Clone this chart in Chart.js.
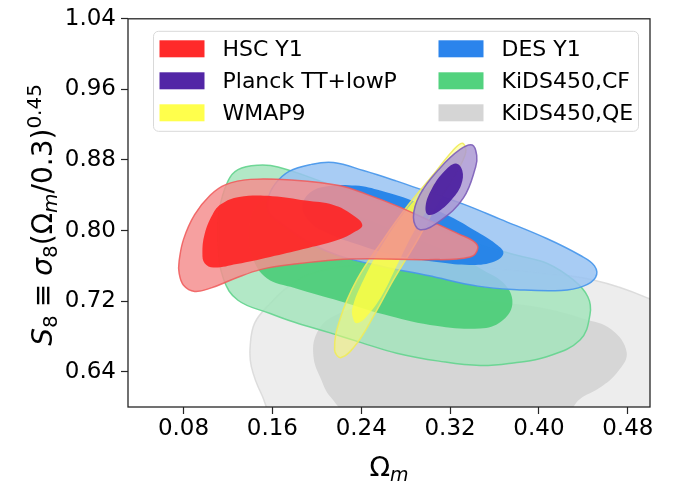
<!DOCTYPE html>
<html>
<head>
<meta charset="utf-8">
<script src="https://cdn.jsdelivr.net/npm/chart.js@4.4.0/dist/chart.umd.min.js"></script>
<style>
  html, body { margin: 0; padding: 0; background: #fff; }
  canvas { display: block; }
</style>
</head>
<body>
<canvas id="grafico" width="675" height="482"></canvas>
<script>
// Marcas de los ejes
const ticksX = [0.08, 0.16, 0.24, 0.32, 0.40, 0.48];
const ticksY = [0.64, 0.72, 0.80, 0.88, 0.96, 1.04];

// Nombres en el orden de la leyenda (dos columnas)
const nombres = ['HSC Y1', 'Planck TT+lowP', 'WMAP9', 'DES Y1', 'KiDS450,CF', 'KiDS450,QE'];

// Contornos [Ωm, S8]: exterior (95%) e interior (68%)
const qeExterior = [[0.165, 0.585], [0.150, 0.615], [0.141, 0.646], [0.140, 0.669], [0.144, 0.695], [0.157, 0.716], [0.175, 0.737], [0.200, 0.753], [0.245, 0.761], [0.300, 0.762], [0.347, 0.758], [0.400, 0.752], [0.449, 0.744], [0.497, 0.724], [0.530, 0.700], [0.550, 0.640], [0.540, 0.580], [0.420, 0.560], [0.280, 0.560]];
const qeInterior = [[0.232, 0.590], [0.212, 0.612], [0.204, 0.631], [0.197, 0.657], [0.200, 0.684], [0.215, 0.703], [0.250, 0.716], [0.300, 0.722], [0.350, 0.720], [0.400, 0.713], [0.440, 0.700], [0.465, 0.688], [0.479, 0.662], [0.471, 0.640], [0.455, 0.622], [0.437, 0.609], [0.422, 0.590], [0.330, 0.575]];

const cfExterior = [[0.112, 0.822], [0.120, 0.856], [0.129, 0.869], [0.147, 0.874], [0.165, 0.872], [0.212, 0.852], [0.260, 0.830], [0.300, 0.806], [0.347, 0.784], [0.380, 0.772], [0.407, 0.763], [0.431, 0.744], [0.444, 0.725], [0.446, 0.705], [0.437, 0.676], [0.407, 0.657], [0.377, 0.650], [0.347, 0.647], [0.310, 0.652], [0.272, 0.661], [0.240, 0.673], [0.212, 0.684], [0.180, 0.696], [0.158, 0.706], [0.129, 0.721], [0.116, 0.745], [0.111, 0.785]];
const cfInterior = [[0.139, 0.800], [0.146, 0.828], [0.165, 0.838], [0.200, 0.832], [0.240, 0.815], [0.280, 0.795], [0.320, 0.775], [0.350, 0.755], [0.370, 0.738], [0.376, 0.716], [0.366, 0.697], [0.347, 0.689], [0.302, 0.693], [0.260, 0.705], [0.221, 0.720], [0.180, 0.735], [0.155, 0.746], [0.142, 0.770]];

const desExterior = [[0.156, 0.835], [0.162, 0.852], [0.175, 0.867], [0.195, 0.875], [0.215, 0.877], [0.242, 0.868], [0.272, 0.856], [0.302, 0.843], [0.332, 0.830], [0.365, 0.813], [0.407, 0.791], [0.437, 0.772], [0.450, 0.760], [0.451, 0.747], [0.440, 0.737], [0.420, 0.732], [0.380, 0.733], [0.345, 0.737], [0.300, 0.749], [0.260, 0.759], [0.221, 0.771], [0.195, 0.785], [0.168, 0.808], [0.157, 0.820]];
const desInterior = [[0.187, 0.826], [0.193, 0.842], [0.208, 0.850], [0.235, 0.851], [0.258, 0.845], [0.290, 0.832], [0.320, 0.816], [0.345, 0.798], [0.363, 0.783], [0.368, 0.774], [0.360, 0.765], [0.340, 0.761], [0.310, 0.764], [0.270, 0.772], [0.235, 0.785], [0.210, 0.797], [0.195, 0.808]];

const hscExterior = [[0.076, 0.765], [0.080, 0.790], [0.090, 0.818], [0.104, 0.840], [0.118, 0.852], [0.140, 0.858], [0.180, 0.857], [0.220, 0.851], [0.245, 0.841], [0.272, 0.828], [0.302, 0.811], [0.328, 0.796], [0.341, 0.788], [0.345, 0.780], [0.338, 0.770], [0.300, 0.767], [0.250, 0.768], [0.218, 0.767], [0.180, 0.762], [0.150, 0.756], [0.125, 0.745], [0.105, 0.735], [0.090, 0.731], [0.080, 0.738], [0.076, 0.752]];
const hscInterior = [[0.097, 0.774], [0.099, 0.796], [0.106, 0.818], [0.114, 0.830], [0.130, 0.838], [0.160, 0.839], [0.190, 0.834], [0.215, 0.829], [0.232, 0.818], [0.241, 0.806], [0.232, 0.797], [0.218, 0.789], [0.188, 0.779], [0.158, 0.770], [0.128, 0.762], [0.107, 0.758], [0.099, 0.763]];

const wmapExterior = [[0.216, 0.665], [0.221, 0.700], [0.236, 0.744], [0.260, 0.790], [0.283, 0.830], [0.304, 0.862], [0.322, 0.890], [0.331, 0.899], [0.334, 0.888], [0.323, 0.860], [0.308, 0.830], [0.291, 0.790], [0.269, 0.744], [0.252, 0.705], [0.236, 0.672], [0.222, 0.656]];
const wmapInterior = [[0.233, 0.699], [0.232, 0.712], [0.242, 0.744], [0.262, 0.790], [0.285, 0.830], [0.303, 0.852], [0.309, 0.853], [0.307, 0.840], [0.288, 0.800], [0.272, 0.760], [0.258, 0.725], [0.243, 0.700], [0.236, 0.695]];

const planckExterior = [[0.293, 0.801], [0.287, 0.815], [0.293, 0.841], [0.311, 0.871], [0.329, 0.892], [0.340, 0.897], [0.344, 0.885], [0.343, 0.872], [0.332, 0.837], [0.311, 0.811]];
const planckInterior = [[0.300, 0.818], [0.298, 0.828], [0.303, 0.846], [0.314, 0.866], [0.325, 0.876], [0.331, 0.868], [0.330, 0.852], [0.322, 0.836], [0.310, 0.822]];

// Colores de cada sondeo: tono del contorno exterior y del interior
const colores = {
    hsc: { exterior: [244, 143, 143], interior: [255, 32, 32], borde: [240, 90, 90] },
    planck: { exterior: [171, 153, 211], interior: [75, 30, 160], borde: [125, 95, 185] },
    wmap: { exterior: [255, 255, 113], interior: [255, 255, 64], borde: [240, 235, 90] },
    des: { exterior: [153, 195, 242], interior: [30, 128, 232], borde: [70, 150, 235] },
    cf: { exterior: [164, 228, 188], interior: [76, 205, 120], borde: [100, 212, 142] },
    qe: { exterior: [237, 237, 237], interior: [214, 214, 214], borde: [215, 215, 215] }
};
const coloresLeyenda = ['#ff2a2a', '#5226a6', '#ffff4c', '#2b84ec', '#52d27e', '#d5d5d5'];

function rgba(c, a) {
    return `rgba(${c[0]}, ${c[1]}, ${c[2]}, ${a})`;
}

// Capas de abajo hacia arriba
const capas = [
    { nombre: 'KiDS450,QE', puntos: qeExterior, relleno: rgba(colores.qe.exterior, 1), borde: rgba(colores.qe.borde, 0.8) },
    { nombre: 'KiDS450,QE', puntos: qeInterior, relleno: rgba(colores.qe.interior, 1), borde: null },
    { nombre: 'KiDS450,CF', puntos: cfExterior, relleno: rgba(colores.cf.exterior, 0.85), borde: rgba(colores.cf.borde, 0.9) },
    { nombre: 'KiDS450,CF', puntos: cfInterior, relleno: rgba(colores.cf.interior, 0.92), borde: null },
    { nombre: 'DES Y1', puntos: desExterior, relleno: rgba(colores.des.exterior, 0.85), borde: rgba(colores.des.borde, 0.9) },
    { nombre: 'DES Y1', puntos: desInterior, relleno: rgba(colores.des.interior, 0.92), borde: null },
    { nombre: 'WMAP9', puntos: wmapExterior, relleno: rgba(colores.wmap.exterior, 0.5), borde: rgba(colores.wmap.borde, 0.9) },
    { nombre: 'WMAP9', puntos: wmapInterior, relleno: rgba(colores.wmap.interior, 0.8), borde: null },
    { nombre: 'HSC Y1', puntos: hscExterior, relleno: rgba(colores.hsc.exterior, 0.85), borde: rgba(colores.hsc.borde, 0.85) },
    { nombre: 'HSC Y1', puntos: hscInterior, relleno: rgba(colores.hsc.interior, 0.88), borde: null },
    { nombre: 'Planck TT+lowP', puntos: planckExterior, relleno: rgba(colores.planck.exterior, 0.85), borde: rgba(colores.planck.borde, 0.9) },
    { nombre: 'Planck TT+lowP', puntos: planckInterior, relleno: rgba(colores.planck.interior, 0.92), borde: null }
];

const datasets = capas.map((capa, i) => ({
    label: capa.nombre,
    data: capa.puntos.map(p => ({ x: p[0], y: p[1] })),
    fill: 'shape',
    backgroundColor: capa.relleno,
    borderColor: capa.borde || 'rgba(0,0,0,0)',
    borderWidth: capa.borde ? 1.5 : 0,
    pointRadius: 0,
    tension: 0.4,
    capBezierPoints: false,
    clip: 0,
    order: capas.length - i
}));

// Cierra cada contorno como un lazo suave
const cerrarContornos = {
    id: 'cerrarContornos',
    afterDatasetUpdate(chart, args) {
        const linea = args.meta.dataset;
        if (linea) {
            linea._loop = true;
            linea._fullLoop = true;
        }
    }
};

// Dibuja texto con subíndices y superíndices
function textoCompuesto(ctx, partes, x, y, girar) {
    ctx.save();
    ctx.translate(x, y);
    if (girar) ctx.rotate(-Math.PI / 2);
    let ancho = 0;
    partes.forEach(p => {
        ctx.font = p.fuente;
        p.ancho = ctx.measureText(p.texto).width + (p.extra || 0);
        ancho += p.ancho;
    });
    let pos = -ancho / 2;
    ctx.fillStyle = '#000';
    ctx.textBaseline = 'alphabetic';
    ctx.textAlign = 'left';
    partes.forEach(p => {
        ctx.font = p.fuente;
        ctx.fillText(p.texto, pos + (p.extra || 0) / 2, p.dy || 0);
        pos += p.ancho;
    });
    ctx.restore();
}

// Marco, leyenda y títulos de ejes
const decoracion = {
    id: 'decoracion',
    afterDatasetsDraw(chart) {
        const ctx = chart.ctx;
        const area = chart.chartArea;
        ctx.save();
        ctx.strokeStyle = '#262626';
        ctx.lineWidth = 1.3;
        ctx.strokeRect(area.left, area.top, area.right - area.left, area.bottom - area.top);
        ctx.restore();
    },
    afterDraw(chart) {
        const ctx = chart.ctx;
        const area = chart.chartArea;

        // Leyenda dentro del gráfico
        const lx = area.left + 25.5;
        const ly = area.top + 12.5;
        const lw = 485;
        const lh = 100;
        ctx.save();
        ctx.beginPath();
        ctx.roundRect(lx, ly, lw, lh, 5);
        ctx.fillStyle = 'rgba(255,255,255,0.8)';
        ctx.fill();
        ctx.strokeStyle = '#d9d9d9';
        ctx.lineWidth = 1;
        ctx.stroke();
        ctx.font = '22px "DejaVu Sans"';
        ctx.textBaseline = 'middle';
        nombres.forEach((nombre, i) => {
            const col = Math.floor(i / 3);
            const fila = i % 3;
            const x = lx + 6 + col * 279;
            const y = ly + 17.5 + fila * 32;
            ctx.fillStyle = coloresLeyenda[i];
            ctx.fillRect(x, y - 8.5, 45, 17);
            ctx.fillStyle = '#000';
            ctx.fillText(nombre, x + 63, y + 1);
        });
        ctx.restore();

        // Título del eje x: Ωm
        const cx = (area.left + area.right) / 2;
        textoCompuesto(ctx, [
            { texto: 'Ω', fuente: '27px "DejaVu Sans"' },
            { texto: 'm', fuente: 'italic 19px "DejaVu Sans"', dy: 5 }
        ], cx, 476, false);

        // Título del eje y: S8 ≡ σ8(Ωm/0.3)^0.45
        const cy = (area.top + area.bottom) / 2 + 2;
        const f = 28;
        const fs = 20;
        textoCompuesto(ctx, [
            { texto: 'S', fuente: `italic ${f}px "DejaVu Sans"` },
            { texto: '8', fuente: `${fs}px "DejaVu Sans"`, dy: 5 },
            { texto: '≡', fuente: `${f}px "DejaVu Sans"`, extra: 16 },
            { texto: 'σ', fuente: `italic ${f}px "DejaVu Sans"` },
            { texto: '8', fuente: `${fs}px "DejaVu Sans"`, dy: 5 },
            { texto: '(Ω', fuente: `${f}px "DejaVu Sans"` },
            { texto: 'm', fuente: `italic ${fs}px "DejaVu Sans"`, dy: 5 },
            { texto: '/0.3)', fuente: `${f}px "DejaVu Sans"` },
            { texto: '0.45', fuente: `${fs}px "DejaVu Sans"`, dy: -11 }
        ], 52, cy, true);
    }
};

const fuenteTicks = { family: 'DejaVu Sans', size: 23 };

new Chart(document.getElementById('grafico'), {
    type: 'line',
    data: { datasets: datasets },
    options: {
        responsive: false,
        animation: false,
        events: [],
        layout: { padding: { left: 0, right: 25, top: 16, bottom: 0 } },
        plugins: {
            legend: { display: false },
            tooltip: { enabled: false }
        },
        scales: {
            x: {
                type: 'linear',
                min: 0.03,
                max: 0.50,
                afterBuildTicks: eje => { eje.ticks = ticksX.map(v => ({ value: v })); },
                afterFit: eje => { eje.height = 75; },
                ticks: {
                    font: fuenteTicks,
                    color: '#000',
                    padding: 1,
                    maxRotation: 0,
                    autoSkip: false,
                    callback: v => v.toFixed(2)
                },
                grid: { drawOnChartArea: false, tickLength: 7, color: '#262626', tickWidth: 1.2 },
                border: { display: false }
            },
            y: {
                type: 'linear',
                min: 0.60,
                max: 1.04,
                afterBuildTicks: eje => { eje.ticks = ticksY.map(v => ({ value: v })); },
                afterFit: eje => { eje.width = 128; },
                ticks: {
                    font: fuenteTicks,
                    color: '#000',
                    padding: 5,
                    autoSkip: false,
                    callback: v => v.toFixed(2)
                },
                grid: { drawOnChartArea: false, tickLength: 7, color: '#262626', tickWidth: 1.2 },
                border: { display: false }
            }
        }
    },
    plugins: [cerrarContornos, decoracion]
});
</script>
</body>
</html>
